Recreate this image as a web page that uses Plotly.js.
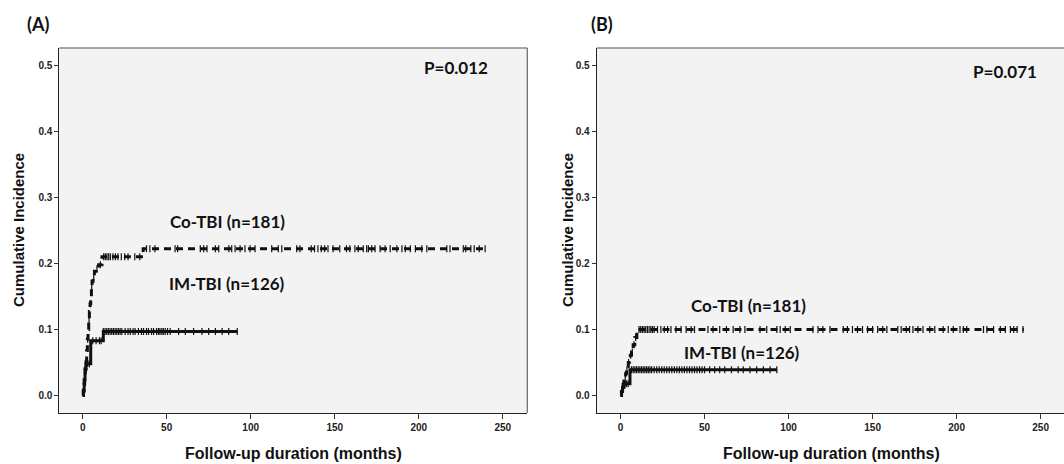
<!DOCTYPE html>
<html>
<head>
<meta charset="utf-8">
<script src="https://cdn.plot.ly/plotly-3.0.1.min.js"></script>
<style>html,body{margin:0;padding:0;background:#fff}#chart{width:1064px;height:464px}</style>
</head>
<body>
<div id="chart"></div>
<script>
// ---------- Data ----------
// Panel A – step curves (time in months, cumulative incidence)
var coA_t = [0, 0.4, 0.8, 1.2, 1.6, 2.0, 2.4, 2.8, 3.2, 3.6, 4.0, 4.4, 4.8, 5.2, 5.6, 6.2, 7.0, 8.0, 9.5, 11.5, 36, 240.5];
var coA_v = [0, 0.006, 0.017, 0.028, 0.040, 0.051, 0.068, 0.085, 0.100, 0.115, 0.127, 0.139, 0.150, 0.162, 0.173, 0.181, 0.188, 0.192, 0.198, 0.210, 0.222, 0.222];
var imA_t = [0, 0.4, 0.9, 1.4, 1.9, 4.8, 12.3, 92];
var imA_v = [0, 0.008, 0.024, 0.040, 0.048, 0.083, 0.097, 0.097];
// Panel A – censored times
var coA_c = [1, 2.2, 3.0, 3.8, 4.6, 5.4, 6.6, 8.5, 10.5,
  12.5, 13.5, 14.5, 15.5, 16.5, 18, 19.5, 21, 23, 25, 27, 31, 34,
  38, 40, 43, 55, 56.5, 70, 72, 74, 79, 81, 87, 88.7, 90.7, 93.7, 96.6, 99.6, 102.6,
  112.5, 116.4, 118.5, 127.4, 129.3, 136, 138, 140, 142, 144, 146, 149, 153, 157, 159, 162, 164,
  167, 169, 170, 172, 174, 177, 180, 183, 187, 190, 192, 195, 198, 201.8, 204.8,
  216.7, 218.6, 226.5, 228, 231, 233, 236, 239.5];
var imA_c = [0.6, 1.6, 3, 4, 6, 8, 10, 11,
  12.3, 13.3, 14.3, 15.3, 16.3, 17.3, 18.3, 19.3, 20.3, 21.3, 22.3, 23.3, 25.3, 27, 28.3, 30,
  31.2, 33.2, 35, 36.2, 38, 39.2, 41, 42.2, 44, 45.1, 46, 47.1, 48, 49.1, 50.5, 52.1,
  57.1, 61.1, 66, 71, 75, 79, 83, 86.9, 92];

// Panel B – step curves
var coB_t = [0, 0.5, 1.0, 1.5, 2.0, 2.5, 3.0, 3.5, 4.0, 4.6, 5.2, 5.8, 6.5, 7.5, 8.5, 9.7, 240];
var coB_v = [0, 0.006, 0.011, 0.017, 0.022, 0.028, 0.033, 0.039, 0.044, 0.050, 0.055, 0.061, 0.066, 0.077, 0.088, 0.100, 0.100];
var imB_t = [0, 0.6, 1.2, 2.0, 5.6, 93];
var imB_v = [0, 0.006, 0.012, 0.018, 0.039, 0.039];
// Panel B – censored times
var coB_c = [0.8, 1.8, 2.8, 3.8, 4.8, 6, 7, 8, 9,
  11, 12, 13, 14, 15, 16, 17, 18, 19, 20, 22, 24, 26, 28, 30, 33, 36, 39, 42, 44,
  52, 55, 59, 63, 67, 71, 74, 83, 87, 93, 95, 98, 101, 114.5, 117.5, 120.4, 124.6,
  132.5, 135, 138, 141, 144, 147, 150, 153, 156, 158.5, 165, 167, 170, 172, 174, 177,
  180, 184, 187, 192, 195, 198, 202, 204, 206, 216, 218, 222, 226, 229, 232, 234, 236, 239.5];
var imB_c = [0.8, 2.5, 3.5, 4.5,
  6.5, 7.5, 8.5, 9.5, 10.5, 11.5, 12.5, 13.5, 14.5, 15.5, 16.5, 17.5, 18.5, 20, 21.5, 23,
  24.5, 26, 27.5, 29, 30.5, 32, 33.5, 35, 36.5, 38, 39.5, 41, 42.5, 44, 45.5, 47, 48.5, 50,
  53, 56, 59, 62, 66, 70, 73, 77, 81, 85, 89, 93];

// Text content
var panelLabels = ["(A)", "(B)"];
var pValues = ["P=0.012", "P=0.071"];
var groupLabels = ["Co-TBI (n=181)", "IM-TBI (n=126)"];
var xTitle = "Follow-up duration (months)";
var yTitle = "Cumulative Incidence";
var yTicks = [0, 0.1, 0.2, 0.3, 0.4, 0.5];
var xTicks = [0, 50, 100, 150, 200, 250];

// ---------- Helpers ----------
function stepAt(t, ts, vs) {
  var v = vs[0];
  for (var i = 0; i < ts.length; i++) { if (ts[i] <= t) v = vs[i]; else break; }
  return v;
}
function curve(ts, vs, xa, ya, dash) {
  return {x: ts, y: vs, xaxis: xa, yaxis: ya, type: 'scatter', mode: 'lines',
    line: {shape: 'hv', color: '#111', width: 3, dash: dash}, hoverinfo: 'skip', showlegend: false};
}
function censor(cs, ts, vs, xa, ya) {
  return {x: cs, y: cs.map(function (c) { return stepAt(c, ts, vs); }), xaxis: xa, yaxis: ya,
    type: 'scatter', mode: 'markers',
    marker: {symbol: 'line-ns-open', size: 5, color: '#111', line: {width: 1.2, color: '#111'}},
    hoverinfo: 'skip', showlegend: false};
}

var traces = [
  curve(coA_t, coA_v, 'x', 'y', '7px,5px'), censor(coA_c, coA_t, coA_v, 'x', 'y'),
  curve(imA_t, imA_v, 'x', 'y', 'solid'), censor(imA_c, imA_t, imA_v, 'x', 'y'),
  curve(coB_t, coB_v, 'x2', 'y2', '7px,5px'), censor(coB_c, coB_t, coB_v, 'x2', 'y2'),
  curve(imB_t, imB_v, 'x2', 'y2', 'solid'), censor(imB_c, imB_t, imB_v, 'x2', 'y2')
];

var tickFont = {family: 'Liberation Sans, Arial, sans-serif', size: 10, color: '#222', weight: 'bold'};
function xAxis(domain, range) {
  return {domain: domain, range: range, tickvals: xTicks, ticktext: xTicks.map(String),
    ticks: 'outside', ticklen: 5, tickcolor: '#333', tickwidth: 1, showgrid: false, zeroline: false,
    showline: true, linecolor: '#222', linewidth: 1, tickfont: tickFont, fixedrange: true};
}
function yAxis(domain, anchor) {
  return {domain: domain, range: [-0.026, 0.526], anchor: anchor, tickvals: yTicks,
    ticktext: yTicks.map(function (v) { return v.toFixed(1); }),
    ticks: 'outside', ticklen: 4, tickcolor: '#333', tickwidth: 1, showgrid: false, zeroline: false,
    showline: true, linecolor: '#222', linewidth: 1, tickfont: tickFont, fixedrange: true};
}

var labFont = {family: 'Lato, Open Sans, sans-serif', size: 17, color: '#111', weight: 'bold'};
var pFont = {family: 'Lato, Open Sans, sans-serif', size: 17, color: '#111', weight: 'bold'};
var panFont = {family: 'Lato, Open Sans, sans-serif', size: 18, color: '#111', weight: 'bold'};
var xTitFont = {family: 'Liberation Sans, Arial, sans-serif', size: 16, color: '#111', weight: 'bold'};
var yTitFont = {family: 'Liberation Sans, Arial, sans-serif', size: 15, color: '#111', weight: 'bold'};

function ann(text, x, y, xref, yref, font, extra) {
  var a = {text: text, x: x, y: y, xref: xref, yref: yref, showarrow: false, font: font,
    xanchor: 'center', yanchor: 'middle'};
  for (var k in extra) a[k] = extra[k];
  return a;
}

var annotations = [
  ann(panelLabels[0], 38 / 1064, 1 - 24 / 464, 'paper', 'paper', panFont),
  ann(panelLabels[1], 602 / 1064, 1 - 24 / 464, 'paper', 'paper', panFont),
  ann(pValues[0], 222, 0.496, 'x', 'y', pFont),
  ann(pValues[1], 229, 0.490, 'x2', 'y2', pFont),
  ann(groupLabels[0], 86, 0.263, 'x', 'y', labFont),
  ann(groupLabels[1], 86, 0.170, 'x', 'y', labFont),
  ann(groupLabels[0], 76, 0.137, 'x2', 'y2', labFont),
  ann(groupLabels[1], 72, 0.0644, 'x2', 'y2', labFont),
  ann(xTitle, 293 / 1064, 1 - 453 / 464, 'paper', 'paper', xTitFont),
  ann(xTitle, 831 / 1064, 1 - 453 / 464, 'paper', 'paper', xTitFont),
  ann(yTitle, 18 / 1064, 1 - 230 / 464, 'paper', 'paper', yTitFont, {textangle: -90}),
  ann(yTitle, 567 / 1064, 1 - 230 / 464, 'paper', 'paper', yTitFont, {textangle: -90})
];

var frame = [
  {type: 'line', xref: 'x domain', yref: 'y domain', x0: 0, x1: 1, y0: 1, y1: 1, line: {color: '#8a8a8a', width: 1.5}},
  {type: 'line', xref: 'x domain', yref: 'y domain', x0: 1, x1: 1, y0: 0, y1: 1, line: {color: '#666', width: 1.2}},
  {type: 'line', xref: 'x2 domain', yref: 'y2 domain', x0: 0, x1: 1, y0: 1, y1: 1, line: {color: '#8a8a8a', width: 1.5}}
];

var yDom = [51.3 / 464, 416 / 464];
var layout = {
  width: 1064, height: 464, margin: {l: 0, r: 0, t: 0, b: 0},
  paper_bgcolor: '#ffffff', plot_bgcolor: '#f3f3f3',
  xaxis: xAxis([59.3 / 1064, 527.3 / 1064], [-13.9, 264.6]),
  yaxis: yAxis(yDom, 'x'),
  xaxis2: xAxis([596.7 / 1064, 1], [-14.2, 263.9]),
  yaxis2: yAxis(yDom, 'x2'),
  annotations: annotations,
  shapes: frame,
  showlegend: false
};
layout.xaxis.anchor = 'y';
layout.xaxis2.anchor = 'y2';

Plotly.newPlot('chart', traces, layout, {displayModeBar: false, staticPlot: true});
</script>
</body>
</html>
